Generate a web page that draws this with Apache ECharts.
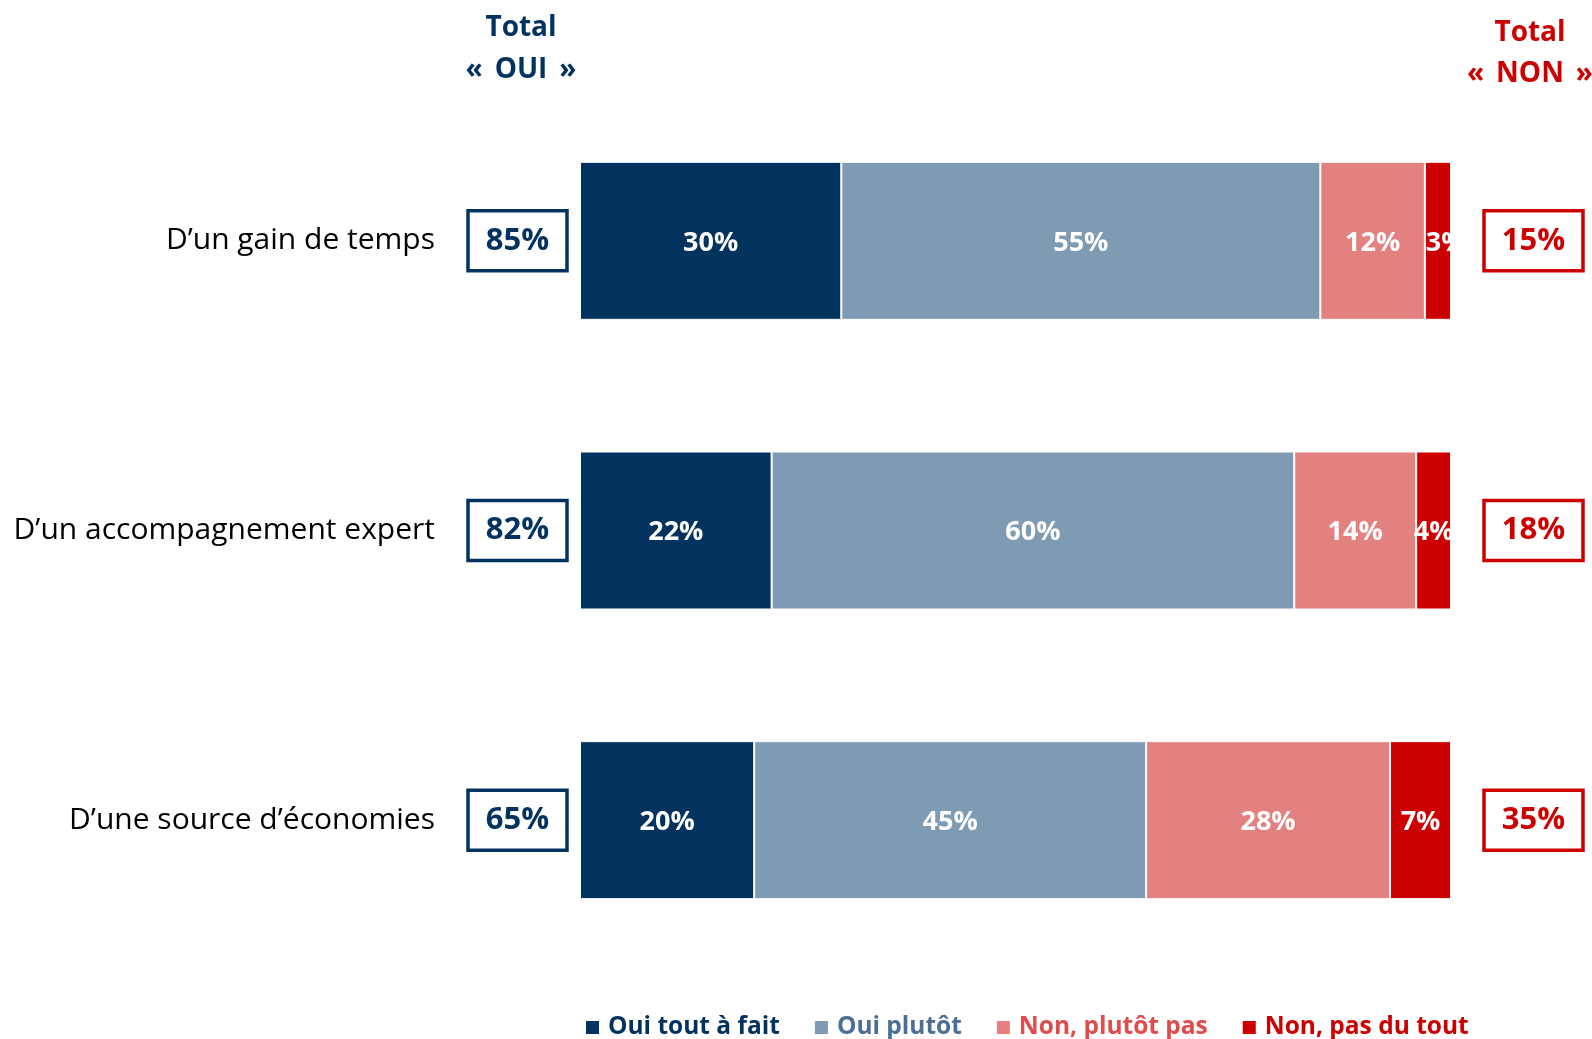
<!DOCTYPE html>
<html>
<head>
<meta charset="utf-8">
<script src="https://cdn.jsdelivr.net/npm/echarts@6/dist/echarts.min.js"></script>
<style>
html,body{margin:0;padding:0;background:#fff;}
#chart{width:1592px;height:1039px;}
</style>
</head>
<body>
<div id="chart"></div>
<script>
const categories = ["D\u2019un gain de temps", "D\u2019un accompagnement expert", "D\u2019une source d\u2019\u00e9conomies"];
const seriesNames = ["Oui tout \u00e0 fait", "Oui plut\u00f4t", "Non, plut\u00f4t pas", "Non, pas du tout"];
const ouiToutAFait = [30, 22, 20];
const ouiPlutot = [55, 60, 45];
const nonPlutotPas = [12, 14, 28];
const nonPasDuTout = [3, 4, 7];

const FONT = "'Open Sans', sans-serif";
const NAVY = "#02335f";
const RED = "#cc0000";
const barColors = [NAVY, "#7f9ab3", "#e38080", RED];
const legendTextColors = [NAVY, "#4d6f93", "#e04c4c", RED];

const values = [ouiToutAFait, ouiPlutot, nonPlutotPas, nonPasDuTout];
const totalOui = categories.map((c, i) => ouiToutAFait[i] + ouiPlutot[i]);
const totalNon = categories.map((c, i) => nonPlutotPas[i] + nonPasDuTout[i]);

const chart = echarts.init(document.getElementById('chart'), null, {renderer: 'canvas'});

const series = values.map((arr, s) => ({
  name: seriesNames[s],
  type: 'bar',
  stack: 'all',
  barWidth: 158,
  itemStyle: {color: barColors[s], borderColor: '#fff', borderWidth: 1},
  label: {
    show: true,
    position: 'inside',
    formatter: '{c}%',
    color: '#fff',
    fontFamily: FONT,
    fontWeight: 'bold',
    fontSize: 27,
    offset: [0, 2]
  },
  data: arr.map(v => v < 4 ? {value: v, label: {position: 'insideLeft', offset: [-4, 2]}} : v)
}));

const boxStyle = (color) => ({
  width: 99, height: 60, lineHeight: 60, align: 'center', verticalAlign: 'middle',
  borderColor: color, borderWidth: 3.5, color: color,
  fontFamily: FONT, fontWeight: 'bold', fontSize: 31
});

chart.setOption({
  backgroundColor: '#fff',
  animation: false,
  title: [
    {text: 'Total\n\u00ab \u2006OUI \u2006\u00bb', left: 516, top: 2, textAlign: 'center',
     textStyle: {color: NAVY, fontFamily: FONT, fontWeight: 'bold', fontSize: 28, lineHeight: 42, align: 'center'}},
    {text: 'Total\n\u00ab \u2006NON \u2006\u00bb', left: 1525, top: 8, textAlign: 'center',
     textStyle: {color: RED, fontFamily: FONT, fontWeight: 'bold', fontSize: 28, lineHeight: 41, align: 'center'}}
  ],
  legend: {
    top: 1015,
    left: 584,
    padding: 0,
    icon: 'rect',
    itemWidth: 15,
    itemHeight: 15,
    itemGap: 33,
    selectedMode: false,
    textStyle: {fontFamily: FONT, fontWeight: 'bold', fontSize: 24.5, padding: [0, 0, 0, 3]},
    data: seriesNames.map((n, i) => ({name: n, textStyle: {color: legendTextColors[i]}}))
  },
  grid: {left: 580, right: 141, top: 96, bottom: 74},
  xAxis: {type: 'value', min: 0, max: 100, show: false},
  yAxis: [
    {
      type: 'category', inverse: true, data: categories,
      axisLine: {show: false}, axisTick: {show: false},
      axisLabel: {
        margin: 13,
        formatter: (v, i) => '{name|' + v + '}{sp|}{box|' + totalOui[i] + '%}',
        rich: {
          name: {fontFamily: FONT, fontSize: 30, color: '#000', verticalAlign: 'middle'},
          sp: {width: 33},
          box: boxStyle(NAVY)
        }
      }
    },
    {
      type: 'category', inverse: true, position: 'right', data: categories,
      axisLine: {show: false}, axisTick: {show: false},
      axisLabel: {
        margin: 33,
        formatter: (v, i) => '{box|' + totalNon[i] + '%}',
        rich: {box: boxStyle(RED)}
      }
    }
  ],
  series: series
});
</script>
</body>
</html>
